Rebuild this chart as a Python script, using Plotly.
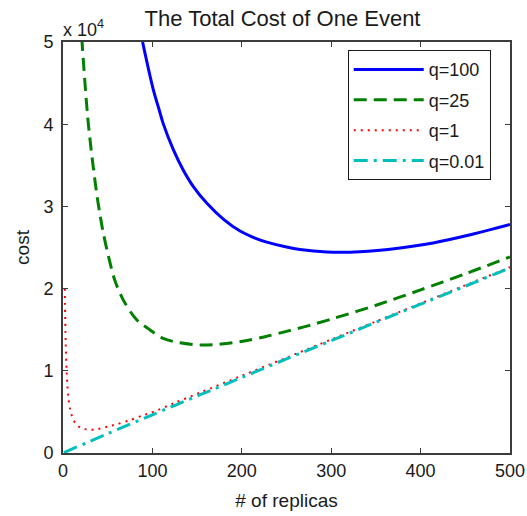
import plotly.graph_objects as go

# Number of replicas (x) and total cost of one event (y) for each q
n_q100 = [89, 101, 107.7, 112, 123.4, 134.6, 145.8, 160.7, 179.3, 198, 214.8, 228,
          250, 265, 295, 332, 377, 414, 452, 500]
cost_q100 = [50000, 44200, 41700, 40100, 36900, 34400, 32400, 30400, 28450, 27000,
             26150, 25650, 25050, 24750, 24450, 24480, 24950, 25550, 26450, 27800]

n_q25 = [21, 28.3, 37.5, 41.4, 45, 50.7, 58, 67.5, 82.4, 97, 112, 131, 155, 177,
         201, 226, 250, 275, 302, 351, 400, 450, 500]
cost_q25 = [50500, 40100, 31700, 29000, 26800, 24000, 21000, 18600, 16200, 15000,
            13950, 13400, 13140, 13260, 13600, 14150, 14800, 15500, 16350, 18000,
            19850, 21800, 23850]

n_q1 = [2, 3, 4, 5, 6, 8, 10, 14, 20, 25, 30, 35, 41, 50, 60, 75, 90, 101, 125,
        153, 200, 250, 302, 350, 400, 450, 500]
cost_q1 = [20000, 13400, 10000, 8100, 6800, 5300, 4500, 3600, 3050, 2900, 2820,
           2830, 2950, 3200, 3500, 4000, 4600, 5000, 6100, 7330, 9400, 11600,
           13900, 16000, 18200, 20400, 22600]

n_q001 = [1, 50, 100, 153, 200, 250, 302, 350, 400, 450, 500]
cost_q001 = [50, 2350, 4650, 7060, 9180, 11450, 13750, 15900, 18100, 20300, 22500]

x_ticks = [0, 100, 200, 300, 400, 500]
y_ticks = [0, 10000, 20000, 30000, 40000, 50000]
y_tick_text = ["0", "1", "2", "3", "4", "5"]

FONT = "Liberation Sans, Arial, Helvetica, sans-serif"
INK = "#1a1a1a"

series = [
    ("q=100", n_q100, cost_q100, "#0000FF", "solid", 3),
    ("q=25", n_q25, cost_q25, "#008000", "13px,7px", 3),
    ("q=1", n_q1, cost_q1, "#FF0000", "2px,5px", 2),
    ("q=0.01", n_q001, cost_q001, "#00BFBF", "14px,6px,3px,6px", 3),
]

fig = go.Figure()
for name, xs, ys, color, dash, width in series:
    fig.add_trace(go.Scatter(
        x=xs, y=ys, name=name, mode="lines", legendgroup=name,
        line=dict(color=color, dash=dash, width=width, shape="spline", smoothing=0.9),
    ))

axis_common = dict(
    showline=True, linecolor="#3c3c3c", linewidth=2, mirror="ticks",
    ticks="inside", ticklen=5, tickwidth=1, tickcolor="#3c3c3c",
    showgrid=False, zeroline=False, automargin=False,
    tickfont=dict(family=FONT, size=18, color=INK),
)

fig.update_layout(
    width=527, height=516,
    margin=dict(l=63, r=17, t=42, b=63),
    paper_bgcolor="white", plot_bgcolor="white",
    title=dict(text="The Total Cost of One Event", xref="container", x=282.5 / 527,
               xanchor="center", yref="container", y=1 - 18 / 516, yanchor="middle",
               font=dict(family=FONT, size=22, color=INK)),
    xaxis=dict(range=[0, 500], tickvals=x_ticks,
               title=dict(text="# of replicas", standoff=14,
                          font=dict(family=FONT, size=19, color=INK)),
               **axis_common),
    yaxis=dict(range=[0, 50000], tickvals=y_ticks, ticktext=y_tick_text,
               ticklabelstandoff=4,
               title=dict(text="cost", standoff=9,
                          font=dict(family=FONT, size=19, color=INK)),
               **axis_common),
    legend=dict(x=0.637, y=0.98, xanchor="left", yanchor="top",
                bgcolor="white", bordercolor=INK, borderwidth=1,
                font=dict(family=FONT, size=18, color=INK),
                itemwidth=70, traceorder="grouped", tracegroupgap=4),
    showlegend=True,
)

fig.add_annotation(
    text="x 10<sup>4</sup>", xref="paper", yref="paper", x=0, y=1,
    xanchor="left", yanchor="bottom", xshift=-2, yshift=0, showarrow=False,
    font=dict(family=FONT, size=18, color=INK),
)

fig.write_html("out.html")
